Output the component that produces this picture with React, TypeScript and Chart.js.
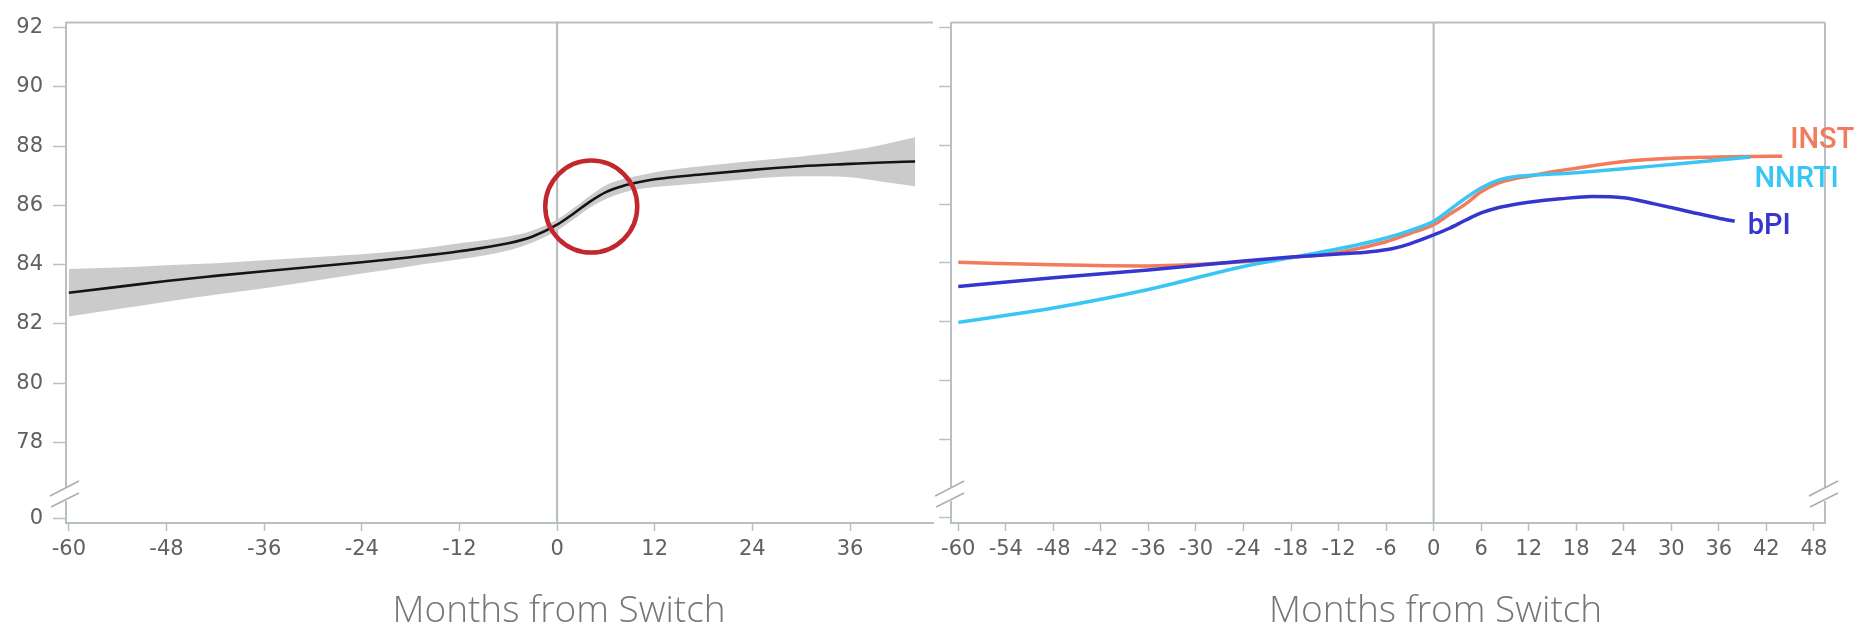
import React, { useEffect, useRef } from 'react';
import { Chart, registerables } from 'chart.js';

Chart.register(...registerables);

// ---------- Left panel: overall trajectory with confidence band ----------
const leftMonths = [-60, -54, -48, -42, -36, -30, -24, -18, -12, -6, -3, 0, 2, 4, 6, 8, 10, 12, 18, 24, 30, 36, 40, 44];
const leftMean = [83.05, 83.25, 83.45, 83.62, 83.78, 83.93, 84.08, 84.25, 84.45, 84.72, 84.95, 85.35, 85.72, 86.12, 86.45, 86.65, 86.78, 86.88, 87.05, 87.2, 87.32, 87.4, 87.45, 87.48];
const leftUpper = [83.85, 83.9, 83.98, 84.05, 84.15, 84.25, 84.35, 84.5, 84.72, 84.95, 85.15, 85.52, 85.9, 86.32, 86.68, 86.88, 87.0, 87.12, 87.33, 87.5, 87.65, 87.85, 88.05, 88.3];
const leftLower = [82.25, 82.5, 82.75, 82.98, 83.2, 83.45, 83.7, 83.95, 84.18, 84.48, 84.75, 85.15, 85.52, 85.92, 86.22, 86.42, 86.55, 86.62, 86.76, 86.9, 86.98, 86.95, 86.8, 86.65];
const highlightMonth = [4.2];
const highlightValue = [85.96];

// ---------- Right panel: by drug class ----------
const instiMonths = [-60, -48, -36, -24, -18, -12, -6, -3, 0, 2, 4, 6, 8, 10, 12, 15, 18, 24, 30, 36, 40, 44];
const instiValues = [84.02, 83.94, 83.9, 84.04, 84.18, 84.36, 84.72, 85.0, 85.3, 85.65, 86.0, 86.42, 86.7, 86.85, 86.95, 87.1, 87.22, 87.45, 87.56, 87.6, 87.62, 87.63];
const nnrtiMonths = [-60, -48, -36, -24, -18, -12, -6, -3, 0, 2, 4, 6, 8, 10, 12, 15, 18, 24, 30, 36, 40];
const nnrtiValues = [81.98, 82.47, 83.1, 83.88, 84.18, 84.48, 84.85, 85.1, 85.42, 85.8, 86.2, 86.55, 86.8, 86.92, 86.97, 87.02, 87.07, 87.2, 87.35, 87.5, 87.6];
const bpiMonths = [-60, -48, -36, -24, -18, -12, -8, -5, -3, 0, 2, 4, 6, 8, 10, 12, 16, 20, 24, 28, 32, 36, 38];
const bpiValues = [83.2, 83.5, 83.76, 84.07, 84.2, 84.3, 84.38, 84.5, 84.65, 84.95, 85.18, 85.45, 85.7, 85.87, 85.98, 86.06, 86.18, 86.26, 86.22, 86.0, 85.76, 85.52, 85.42];
const seriesNames = ['INSTI', 'NNRTI', 'bPI'];

// ---------- Axis ticks ----------
const yTickValues = [78, 80, 82, 84, 86, 88, 90, 92];
const brokenTickLabel = '0';
const leftXTicks = [-60, -48, -36, -24, -12, 0, 12, 24, 36];
const rightXTicks = [-60, -54, -48, -42, -36, -30, -24, -18, -12, -6, 0, 6, 12, 18, 24, 30, 36, 42, 48];
const axisTitle = 'Months from Switch';

// ---------- styles ----------
const AXIS = '#b9c0c4';
const TICK_TEXT = '#606060';
const COL_INSTI = '#f47a5c';
const COL_NNRTI = '#38c6f4';
const COL_BPI = '#3636cf';
const W = 1855;
const H = 627;

const pts = (xs: number[], ys: number[]) => xs.map((x, i) => ({ x, y: ys[i] }));

function drawBreak(ctx: CanvasRenderingContext2D, x: number, bottom: number) {
  ctx.save();
  ctx.fillStyle = '#ffffff';
  ctx.fillRect(x - 3, bottom - 36, 6, 14);
  ctx.strokeStyle = '#a9b0b4';
  ctx.lineWidth = 1.6;
  ctx.beginPath();
  ctx.moveTo(x - 16, bottom - 27);
  ctx.lineTo(x + 13, bottom - 42);
  ctx.moveTo(x - 15, bottom - 16);
  ctx.lineTo(x + 13, bottom - 30);
  ctx.stroke();
  ctx.restore();
}

function makeDeco(opts: { topBorder: boolean; rightBorder: boolean; gapTop: number; gapBottom: number; labels?: boolean }) {
  return {
    id: 'deco',
    beforeDatasetsDraw(chart: any) {
      const { ctx, chartArea } = chart;
      const { left, right, top, bottom } = chartArea;
      const x = chart.scales.x;
      const zx = x.getPixelForValue(0);
      ctx.save();
      ctx.strokeStyle = AXIS;
      ctx.lineWidth = 2;
      ctx.beginPath();
      if (opts.topBorder) {
        ctx.moveTo(left, top);
        ctx.lineTo(right, top);
      }
      if (opts.rightBorder) {
        ctx.moveTo(right, top);
        ctx.lineTo(right, bottom);
      }
      ctx.stroke();
      ctx.lineWidth = 2.2;
      ctx.beginPath();
      ctx.moveTo(zx, top);
      ctx.lineTo(zx, bottom - opts.gapTop);
      ctx.moveTo(zx, bottom - opts.gapBottom);
      ctx.lineTo(zx, bottom);
      ctx.stroke();
      ctx.restore();
    },
    afterDraw(chart: any) {
      const { ctx, chartArea } = chart;
      const { left, right, bottom } = chartArea;
      drawBreak(ctx, left, bottom);
      if (opts.rightBorder) drawBreak(ctx, right, bottom);
      const x = chart.scales.x;
      ctx.save();
      ctx.fillStyle = '#767676';
      ctx.font = '300 37px "Open Sans"';
      ctx.textAlign = 'center';
      ctx.textBaseline = 'alphabetic';
      ctx.fillText(axisTitle, x.getPixelForValue(0) + 2, 622);
      ctx.restore();
      if (opts.labels) {
        const y = chart.scales.y;
        const ends = [
          { name: seriesNames[0], m: instiMonths[instiMonths.length - 1], v: instiValues[instiValues.length - 1], dx: 8, dy: -8, c: COL_INSTI },
          { name: seriesNames[1], m: nnrtiMonths[nnrtiMonths.length - 1], v: nnrtiValues[nnrtiValues.length - 1], dx: 4, dy: 30, c: COL_NNRTI },
          { name: seriesNames[2], m: bpiMonths[bpiMonths.length - 1], v: bpiValues[bpiValues.length - 1], dx: 13, dy: 13, c: COL_BPI },
        ];
        ctx.save();
        ctx.font = '500 29px Roboto';
        ctx.textAlign = 'left';
        ctx.textBaseline = 'alphabetic';
        ends.forEach((e) => {
          ctx.fillStyle = e.c;
          ctx.fillText(e.name, x.getPixelForValue(e.m) + e.dx, y.getPixelForValue(e.v) + e.dy);
        });
        ctx.restore();
      }
    },
  };
}

function yScale(min: number, max: number, brokenAt: number, showLabels: boolean, tickLen: number, width: number) {
  return {
    type: 'linear',
    min,
    max,
    afterBuildTicks: (s: any) => {
      s.ticks = [brokenAt, ...yTickValues].map((v) => ({ value: v }));
    },
    afterFit: (s: any) => {
      s.width = width;
    },
    ticks: {
      autoSkip: false,
      padding: 10,
      color: showLabels ? TICK_TEXT : 'rgba(0,0,0,0)',
      font: { family: 'DejaVu Sans', size: 21 },
      callback: (v: number) => (v < 77 ? brokenTickLabel : String(v)),
    },
    grid: { drawOnChartArea: false, drawTicks: true, tickLength: tickLen, tickColor: AXIS, tickWidth: 1.5 },
    border: { display: true, color: AXIS, width: 2 },
  };
}

function xScale(min: number, max: number, ticks: number[]) {
  return {
    type: 'linear',
    min,
    max,
    afterBuildTicks: (s: any) => {
      s.ticks = ticks.map((v) => ({ value: v }));
    },
    afterFit: (s: any) => {
      s.height = 104;
    },
    ticks: {
      autoSkip: false,
      maxRotation: 0,
      padding: 6,
      color: TICK_TEXT,
      font: { family: 'DejaVu Sans', size: 21 },
      callback: (v: number) => String(v),
    },
    grid: { drawOnChartArea: false, drawTicks: true, tickLength: 8, tickColor: AXIS, tickWidth: 1.5 },
    border: { display: true, color: AXIS, width: 2 },
  };
}

const baseLine = { pointRadius: 0, cubicInterpolationMode: 'monotone', fill: false };

export default function App() {
  const leftRef = useRef<HTMLCanvasElement>(null);
  const rightRef = useRef<HTMLCanvasElement>(null);

  useEffect(() => {
    const c1 = new Chart(leftRef.current as HTMLCanvasElement, {
      type: 'line',
      data: {
        datasets: [
          {
            type: 'scatter',
            data: pts(highlightMonth, highlightValue),
            pointRadius: 46,
            pointHoverRadius: 46,
            pointBorderWidth: 4.5,
            pointBorderColor: '#c1272d',
            pointBackgroundColor: 'rgba(0,0,0,0)',
            showLine: false,
            clip: false,
          } as any,
          { ...baseLine, data: pts(leftMonths, leftMean), borderColor: '#141414', borderWidth: 2.6 } as any,
          { ...baseLine, data: pts(leftMonths, leftUpper), borderWidth: 0, borderColor: 'rgba(0,0,0,0)', fill: '+1', backgroundColor: '#cbcbcb' } as any,
          { ...baseLine, data: pts(leftMonths, leftLower), borderWidth: 0, borderColor: 'rgba(0,0,0,0)' } as any,
        ],
      },
      options: {
        animation: false,
        responsive: false,
        events: [],
        layout: { autoPadding: false, padding: { top: 20, right: 7, left: 0, bottom: 0 } },
        plugins: { legend: { display: false }, tooltip: { enabled: false } },
        scales: {
          x: xScale(-60.35, 46.2, leftXTicks),
          y: yScale(75.28, 92.17, 75.42, true, 13, 66),
        } as any,
      } as any,
      plugins: [makeDeco({ topBorder: true, rightBorder: false, gapTop: 21, gapBottom: 33 }) as any],
    });

    const c2 = new Chart(rightRef.current as HTMLCanvasElement, {
      type: 'line',
      data: {
        datasets: [
          { ...baseLine, label: seriesNames[2], data: pts(bpiMonths, bpiValues), borderColor: COL_BPI, borderWidth: 3.5 } as any,
          { ...baseLine, label: seriesNames[1], data: pts(nnrtiMonths, nnrtiValues), borderColor: COL_NNRTI, borderWidth: 3.5 } as any,
          { ...baseLine, label: seriesNames[0], data: pts(instiMonths, instiValues), borderColor: COL_INSTI, borderWidth: 3.5 } as any,
        ],
      },
      options: {
        animation: false,
        responsive: false,
        events: [],
        layout: { autoPadding: false, padding: { top: 15, right: 30, left: 0, bottom: 0 } },
        plugins: { legend: { display: false }, tooltip: { enabled: false } },
        scales: {
          x: xScale(-60.9, 49.4, rightXTicks),
          y: yScale(75.16, 92.17, 75.36, false, 12, 15),
        } as any,
      } as any,
      plugins: [makeDeco({ topBorder: true, rightBorder: true, gapTop: 25, gapBottom: 38, labels: true }) as any],
    });

    return () => {
      c1.destroy();
      c2.destroy();
    };
  }, []);

  return (
    <div style={{ position: 'absolute', left: 0, top: 0, width: W, height: H, background: '#fff', overflow: 'hidden' }}>
      <canvas ref={leftRef} width={940} height={H} style={{ position: 'absolute', left: 0, top: 0 }} />
      <canvas ref={rightRef} width={920} height={H} style={{ position: 'absolute', left: 935, top: 0 }} />
    </div>
  );
}
